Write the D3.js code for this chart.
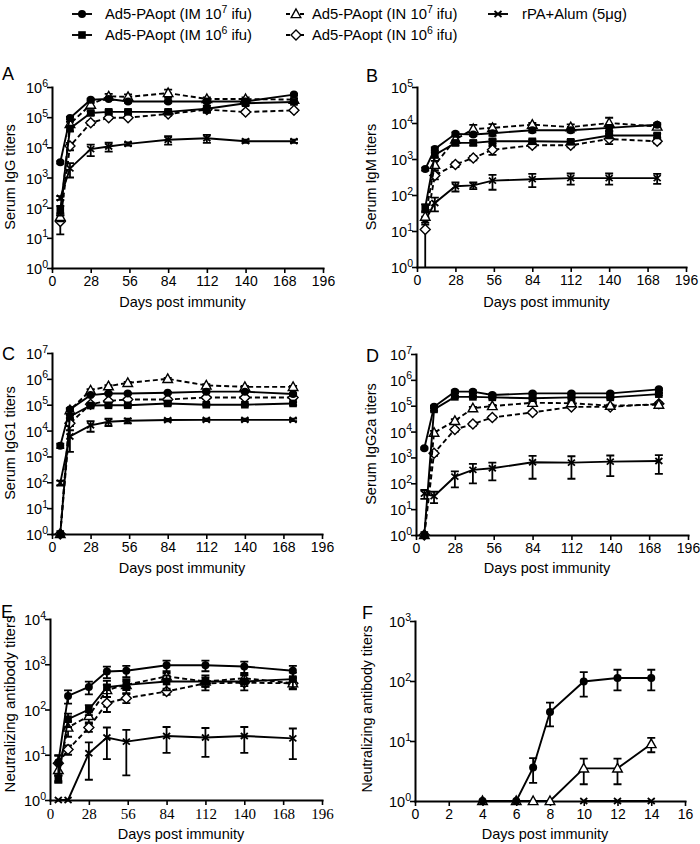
<!DOCTYPE html>
<html><head><meta charset="utf-8">
<script src="https://cdn.jsdelivr.net/npm/d3@7"></script>
<style>body{margin:0;background:#fff} svg{display:block}</style>
</head><body><svg id="c" width="700" height="844"></svg>
<script>
// ---------------- DATA ----------------
const seriesKeys = ["IM7", "IM6", "IN7", "IN6", "rPA"];
const seriesLabels = ["Ad5-PAopt (IM 10^7 ifu)", "Ad5-PAopt (IM 10^6 ifu)", "Ad5-PAopt (IN 10^7 ifu)", "Ad5-PAopt (IN 10^6 ifu)", "rPA+Alum (5μg)"];
const days = [6, 13, 28, 41, 55, 84, 112, 140, 175];
const xTicksLong = [0, 28, 56, 84, 112, 140, 168, 196];
const daysF = [4, 6, 7, 8, 10, 12, 14];
const daysF_rPA = [10, 12, 14];
const xTicksF = [0, 2, 4, 6, 8, 10, 12, 14, 16];

// A: Serum IgG
const igG_IM7 = [3200, 93000, 380000, 400000, 330000, 330000, 330000, 330000, 560000];
const igG_IM7_err = [300, 10000, 30000, 30000, 30000, 30000, 30000, 30000, 40000];
const igG_IM6 = [85, 42000, 138000, 150000, 150000, 150000, 190000, 290000, 320000];
const igG_IM6_err = [30, 8000, 20000, 20000, 20000, 20000, 50000, 40000, 40000];
const igG_IN7 = [50, 60000, 260000, 490000, 470000, 630000, 400000, 400000, 380000];
const igG_IN7_err = [15, 10000, 40000, 100000, 100000, 190000, 50000, 50000, 50000];
const igG_IN6 = [35, 11000, 65000, 96000, 96000, 128000, 178000, 148000, 168000];
const igG_IN6_err = [22, 3000, 10000, 10000, 10000, 15000, 30000, 15000, 15000];
const igG_rPA = [210, 2000, 8700, 10700, 13000, 17800, 20000, 16000, 16000];
const igG_rPA_err = [30, 1000, 3600, 3500, 1500, 5500, 6000, 2000, 2000];

// B: Serum IgM
const igM_IM7 = [525, 1900, 5000, 4800, 5200, 6300, 6300, 7300, 8900];
const igM_IM7_err = [50, 200, 500, 500, 800, 800, 800, 1500, 1000];
const igM_IM6 = [45, 1300, 2800, 2800, 3100, 3100, 3000, 4500, 4500];
const igM_IM6_err = [10, 200, 400, 400, 400, 400, 400, 600, 600];
const igM_IN7 = [25, 690, 3500, 6800, 7300, 9000, 7700, 10000, 8000];
const igM_IN7_err = [8, 200, 700, 2100, 2000, 1000, 1500, 4000, 1000];
const igM_IN6 = [11, 350, 700, 1070, 1800, 2400, 2400, 3600, 3100];
const igM_IN6_err = [12, 80, 100, 150, 500, 300, 300, 1000, 400];
const igM_rPA = [20, 60, 175, 185, 250, 275, 295, 295, 295];
const igM_rPA_err = [5, 25, 50, 40, 110, 110, 100, 100, 90];

// C: Serum IgG1
const igG1_IM7 = [2600, 66000, 235000, 270000, 270000, 290000, 320000, 320000, 260000];
const igG1_IM7_err = [500, 8000, 20000, 20000, 20000, 20000, 20000, 20000, 20000];
const igG1_IM6 = [1, 35000, 93000, 95000, 95000, 112000, 100000, 100000, 112000];
const igG1_IM6_err = [0, 5000, 10000, 10000, 10000, 15000, 10000, 10000, 15000];
const igG1_IN7 = [1, 62000, 360000, 520000, 700000, 1000000, 560000, 490000, 490000];
const igG1_IN7_err = [0, 8000, 40000, 50000, 60000, 100000, 60000, 50000, 50000];
const igG1_IN6 = [1, 19000, 105000, 140000, 160000, 160000, 190000, 190000, 190000];
const igG1_IN6_err = [0, 4000, 10000, 15000, 15000, 15000, 20000, 20000, 20000];
const igG1_rPA = [95, 5900, 16000, 22000, 24000, 25500, 26000, 26000, 26000];
const igG1_rPA_err = [20, 4400, 7000, 7000, 5000, 3000, 3000, 3000, 3000];

// D: Serum IgG2a
const igG2a_IM7 = [2250, 91000, 350000, 350000, 260000, 300000, 300000, 300000, 430000];
const igG2a_IM7_err = [200, 10000, 40000, 40000, 30000, 30000, 30000, 30000, 40000];
const igG2a_IM6 = [1, 72000, 220000, 220000, 210000, 195000, 210000, 210000, 280000];
const igG2a_IM6_err = [0, 8000, 20000, 20000, 20000, 20000, 20000, 20000, 30000];
const igG2a_IN7 = [1, 9100, 26000, 80000, 97000, 130000, 125000, 100000, 110000];
const igG2a_IN7_err = [0, 1500, 4000, 10000, 10000, 15000, 15000, 10000, 15000];
const igG2a_IN6 = [1, 1450, 12000, 19500, 35000, 55000, 90000, 90000, 118000];
const igG2a_IN6_err = [0, 300, 2000, 3000, 5000, 8000, 10000, 10000, 15000];
const igG2a_rPA = [40, 32, 180, 330, 380, 650, 630, 690, 730];
const igG2a_rPA_err = [15, 15, 110, 230, 250, 500, 480, 500, 500];

// E: Neutralizing antibody titers (long term)
const neut_IM7 = [6.8, 200, 315, 690, 720, 950, 950, 890, 720];
const neut_IM7_err = [3, 65, 100, 200, 200, 250, 250, 250, 200];
const neut_IM6 = [2.9, 61, 100, 310, 350, 415, 415, 415, 470];
const neut_IM6_err = [0.5, 20, 25, 120, 120, 150, 150, 150, 180];
const neut_IN7 = [4.6, 40, 72, 270, 350, 540, 415, 490, 380];
const neut_IN7_err = [2, 15, 20, 80, 80, 100, 100, 100, 100];
const neut_IN6 = [6.5, 13, 40, 138, 178, 250, 380, 390, 380];
const neut_IN6_err = [3, 3, 8, 50, 40, 40, 60, 60, 60];
const neut_rPA = [1, 1, 10.8, 24, 19.5, 26, 24, 26, 23];
const neut_rPA_err = [0, 0, 8, 16, 16, 15, 15, 15, 15];

// F: Neutralizing antibody titers (early)
const neutF_IM7 = [1, 1, 3.6, 30.5, 98, 112, 112];
const neutF_IM7_err = [0, 0, 1.6, 13, 43, 42, 42];
const neutF_IN7 = [1, 1, 1, 1, 3.5, 3.5, 8.9];
const neutF_IN7_err = [0, 0, 0, 0, 1.6, 1.6, 2.4];
const neutF_rPA = [1, 1, 1];
const neutF_rPA_err = [0, 0, 0];

// ---------------- STYLE / LAYOUT ----------------
const FONT = "'Liberation Sans', Arial, Helvetica, sans-serif";
const SERIF = "'Liberation Serif', 'Times New Roman', serif";
const styles = {
  IM7: {marker: "circle", dash: null},
  IM6: {marker: "square", dash: null},
  IN7: {marker: "triangle", dash: "5,3"},
  IN6: {marker: "diamond", dash: "5,3"},
  rPA: {marker: "cross", dash: null}
};

const panels = [
  {letter: "A", lx: 2, ly: 80, x0: 52, x1: 323, y0: 87, y1: 268, yMax: 1e6, xDomain: [0, 196], xTicks: xTicksLong,
   ylabel: "Serum IgG titers", ylx: 11, yly: 177, ylSize: 14.5, xlabelY: 307, tickFont: FONT,
   series: [
     {key: "rPA", x: days, v: igG_rPA, e: igG_rPA_err},
     {key: "IN6", x: days, v: igG_IN6, e: igG_IN6_err},
     {key: "IN7", x: days, v: igG_IN7, e: igG_IN7_err},
     {key: "IM6", x: days, v: igG_IM6, e: igG_IM6_err},
     {key: "IM7", x: days, v: igG_IM7, e: igG_IM7_err}]},
  {letter: "B", lx: 366, ly: 82, x0: 417, x1: 686, y0: 87, y1: 267, yMax: 1e5, xDomain: [0, 196], xTicks: xTicksLong,
   ylabel: "Serum IgM titers", ylx: 372, yly: 177, ylSize: 14.5, xlabelY: 307, tickFont: FONT,
   series: [
     {key: "rPA", x: days, v: igM_rPA, e: igM_rPA_err},
     {key: "IN6", x: days, v: igM_IN6, e: igM_IN6_err},
     {key: "IN7", x: days, v: igM_IN7, e: igM_IN7_err},
     {key: "IM6", x: days, v: igM_IM6, e: igM_IM6_err},
     {key: "IM7", x: days, v: igM_IM7, e: igM_IM7_err}]},
  {letter: "C", lx: 2, ly: 360, x0: 52, x1: 322, y0: 353, y1: 534, yMax: 1e7, xDomain: [0, 196], xTicks: xTicksLong,
   ylabel: "Serum IgG1 titers", ylx: 11, yly: 443, ylSize: 14.5, xlabelY: 573, tickFont: FONT,
   series: [
     {key: "rPA", x: days, v: igG1_rPA, e: igG1_rPA_err},
     {key: "IN6", x: days, v: igG1_IN6, e: igG1_IN6_err},
     {key: "IN7", x: days, v: igG1_IN7, e: igG1_IN7_err},
     {key: "IM6", x: days, v: igG1_IM6, e: igG1_IM6_err},
     {key: "IM7", x: days, v: igG1_IM7, e: igG1_IM7_err}]},
  {letter: "D", lx: 366, ly: 362, x0: 416, x1: 688, y0: 354, y1: 535, yMax: 1e7, xDomain: [0, 196], xTicks: xTicksLong,
   ylabel: "Serum IgG2a titers", ylx: 372, yly: 444, ylSize: 14.5, xlabelY: 573, tickFont: FONT,
   series: [
     {key: "rPA", x: days, v: igG2a_rPA, e: igG2a_rPA_err},
     {key: "IN6", x: days, v: igG2a_IN6, e: igG2a_IN6_err},
     {key: "IN7", x: days, v: igG2a_IN7, e: igG2a_IN7_err},
     {key: "IM6", x: days, v: igG2a_IM6, e: igG2a_IM6_err},
     {key: "IM7", x: days, v: igG2a_IM7, e: igG2a_IM7_err}]},
  {letter: "E", lx: 1, ly: 618, x0: 50, x1: 322, y0: 619, y1: 800, yMax: 1e4, xDomain: [0, 196], xTicks: xTicksLong,
   ylabel: "Neutralizing antibody titers", ylx: 11, yly: 704, ylSize: 15, xlabelY: 839, tickFont: SERIF,
   series: [
     {key: "rPA", x: days, v: neut_rPA, e: neut_rPA_err},
     {key: "IN6", x: days, v: neut_IN6, e: neut_IN6_err},
     {key: "IN7", x: days, v: neut_IN7, e: neut_IN7_err},
     {key: "IM6", x: days, v: neut_IM6, e: neut_IM6_err},
     {key: "IM7", x: days, v: neut_IM7, e: neut_IM7_err}]},
  {letter: "F", lx: 362, ly: 619, x0: 415, x1: 685, y0: 621, y1: 801, yMax: 1e3, xDomain: [0, 16], xTicks: xTicksF,
   ylabel: "Neutralizing antibody titers", ylx: 368, yly: 709, ylSize: 14.2, xlabelY: 839, tickFont: FONT,
   series: [
     {key: "rPA", x: daysF_rPA, v: neutF_rPA, e: neutF_rPA_err},
     {key: "IN7", x: daysF, v: neutF_IN7, e: neutF_IN7_err, dash: null},
     {key: "IM7", x: daysF, v: neutF_IM7, e: neutF_IM7_err}]}
];

// ---------------- DRAW ----------------
const svg = d3.select("#c");

function drawMarker(g, type, cx, cy) {
  if (type === "circle") {
    g.append("circle").attr("cx", cx).attr("cy", cy).attr("r", 4).attr("fill", "#000");
  } else if (type === "square") {
    g.append("rect").attr("x", cx - 3.8).attr("y", cy - 3.8).attr("width", 7.6).attr("height", 7.6).attr("fill", "#000");
  } else if (type === "triangle") {
    g.append("path").attr("d", `M${cx},${cy - 5}L${cx + 4.8},${cy + 3.6}L${cx - 4.8},${cy + 3.6}Z`)
      .attr("fill", "#fff").attr("stroke", "#000").attr("stroke-width", 1.4);
  } else if (type === "diamond") {
    g.append("path").attr("d", `M${cx},${cy - 5}L${cx + 5},${cy}L${cx},${cy + 5}L${cx - 5},${cy}Z`)
      .attr("fill", "#fff").attr("stroke", "#000").attr("stroke-width", 1.4);
  } else if (type === "cross") {
    g.append("path").attr("d", `M${cx - 3.5},${cy - 3}L${cx + 3.5},${cy + 3}M${cx - 3.5},${cy + 3}L${cx + 3.5},${cy - 3}`)
      .attr("stroke", "#000").attr("stroke-width", 1.8).attr("fill", "none");
  }
}

panels.forEach(p => {
  const x = d3.scaleLinear().domain(p.xDomain).range([p.x0, p.x1]);
  const y = d3.scaleLog().domain([1, p.yMax]).range([p.y1, p.y0]);
  const nDec = Math.round(Math.log10(p.yMax));
  const decades = d3.range(0, nDec + 1).map(k => Math.pow(10, k));
  const g = svg.append("g");

  // y axis
  const yAxis = d3.axisLeft(y).tickValues(decades).tickSize(5).tickSizeOuter(0).tickFormat(() => "");
  const yg = g.append("g").attr("transform", `translate(${p.x0},0)`).call(yAxis);
  yg.select(".domain").attr("stroke-width", 2).attr("stroke-linecap", "square");
  yg.selectAll(".tick line").attr("stroke-width", 1.6);
  yg.selectAll(".tick text").remove();
  yg.selectAll(".tick").each(function(d) {
    const t = d3.select(this).append("text")
      .attr("x", -4).attr("y", 5.5).attr("text-anchor", "end")
      .attr("font-family", FONT).attr("font-size", 14.5).attr("fill", "#000");
    t.append("tspan").text("10");
    t.append("tspan").attr("dy", -6.5).attr("font-size", 10.5).text(String(Math.round(Math.log10(d))));
  });

  // x axis
  const xAxis = d3.axisBottom(x).tickValues(p.xTicks).tickSize(5).tickSizeOuter(0).tickPadding(3);
  const xg = g.append("g").attr("transform", `translate(0,${p.y1})`).call(xAxis);
  xg.select(".domain").attr("stroke-width", 2).attr("stroke-linecap", "square");
  xg.selectAll(".tick line").attr("stroke-width", 1.6);
  xg.selectAll(".tick text").attr("font-family", p.tickFont)
    .attr("font-size", p.tickFont === SERIF ? 15 : 14).attr("fill", "#000");

  // axis titles
  g.append("text").attr("x", (p.x0 + p.x1) / 2 - 5).attr("y", p.xlabelY).attr("text-anchor", "middle")
    .attr("font-family", FONT).attr("font-size", 14.5).attr("fill", "#000").text("Days post immunity");
  g.append("text").attr("transform", `translate(${p.ylx},${p.yly}) rotate(-90)`)
    .attr("text-anchor", "middle").attr("dominant-baseline", "middle")
    .attr("font-family", FONT).attr("font-size", p.ylSize).attr("fill", "#000").text(p.ylabel);

  // panel letter
  g.append("text").attr("x", p.lx).attr("y", p.ly).attr("font-family", FONT).attr("font-size", 18)
    .attr("fill", "#000").text(p.letter);

  // series
  p.series.forEach(s => {
    const st = styles[s.key];
    const dash = ("dash" in s) ? s.dash : st.dash;
    const pts = s.x.map((d, i) => ({d, v: s.v[i], e: s.e[i]}));
    const sg = g.append("g");
    const line = d3.line().x(q => x(q.d)).y(q => y(q.v));
    sg.append("path").datum(pts).attr("d", line).attr("fill", "none").attr("stroke", "#000")
      .attr("stroke-width", 1.9).attr("stroke-dasharray", dash);
    pts.forEach(q => {
      if (q.e > 0) {
        const cx = x(q.d);
        const hi = y(q.v + q.e);
        const lo = (q.v - q.e) > 1 ? y(q.v - q.e) : p.y1;
        sg.append("path").attr("d", `M${cx},${hi}V${lo}M${cx - 4},${hi}H${cx + 4}` + ((q.v - q.e) > 1 ? `M${cx - 4},${lo}H${cx + 4}` : ""))
          .attr("stroke", "#000").attr("stroke-width", 1.8).attr("fill", "none");
      }
    });
    pts.forEach(q => drawMarker(sg, st.marker, x(q.d), y(q.v)));
  });
});

// ---------------- LEGEND ----------------
const legendPos = [
  {mx: 82, tx: 105, y: 14},
  {mx: 82, tx: 105, y: 35},
  {mx: 296, tx: 312, y: 14},
  {mx: 296, tx: 312, y: 35},
  {mx: 498, tx: 522, y: 14}
];
const lg = svg.append("g");
seriesKeys.forEach((k, i) => {
  const pos = legendPos[i];
  const st = styles[k];
  lg.append("line").attr("x1", pos.mx - 10).attr("x2", pos.mx + 10).attr("y1", pos.y).attr("y2", pos.y)
    .attr("stroke", "#000").attr("stroke-width", 1.9).attr("stroke-dasharray", st.dash ? "4,3" : null);
  drawMarker(lg, st.marker, pos.mx, pos.y);
  const label = seriesLabels[i];
  const t = lg.append("text").attr("x", pos.tx).attr("y", pos.y + 5)
    .attr("font-family", FONT).attr("font-size", 14.8).attr("fill", "#000");
  if (label.includes("^")) {
    const [pre, rest] = label.split("^");
    t.append("tspan").text(pre);
    t.append("tspan").attr("dy", -6.5).attr("font-size", 10.5).text(rest[0]);
    t.append("tspan").attr("dy", 6.5).text(rest.slice(1));
  } else {
    t.text(label);
  }
});
</script></body></html>
